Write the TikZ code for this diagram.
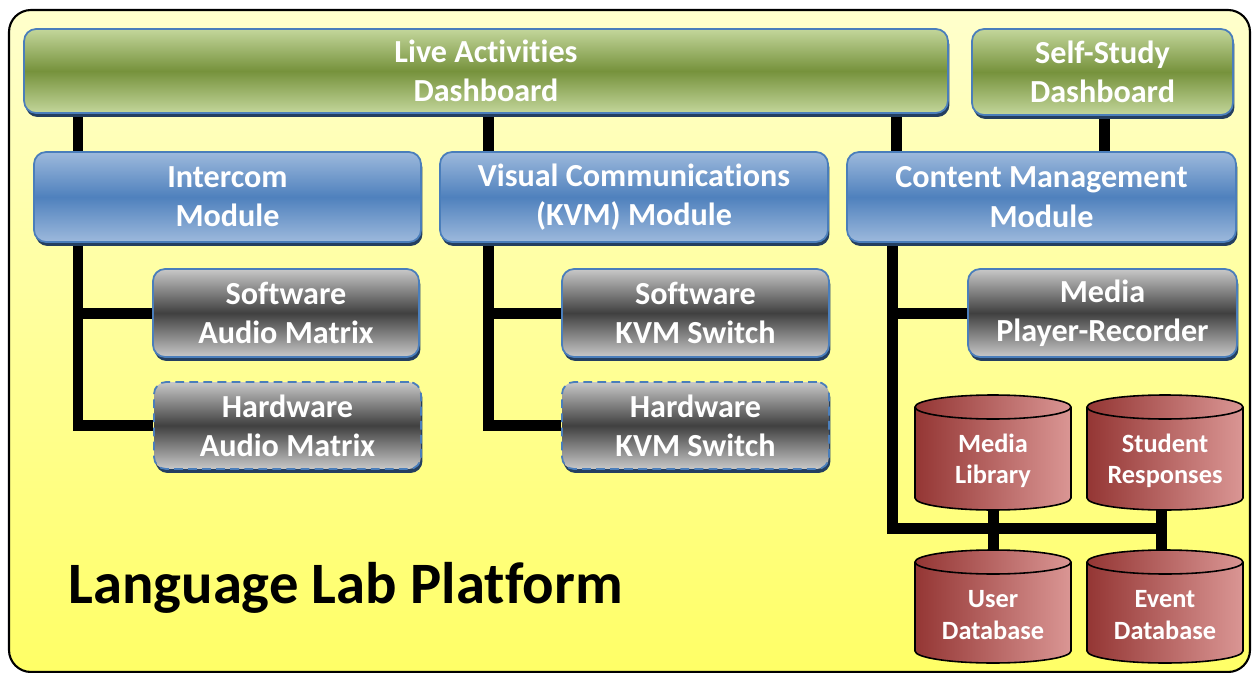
\documentclass[tikz,border=0pt]{standalone}
\usepackage{fontspec}
\setmainfont{Carlito}[Ligatures=NoCommon]
\usetikzlibrary{shadows}
\definecolor{gL}{HTML}{C3D69B}
\definecolor{gD}{HTML}{76923C}
\definecolor{bL}{HTML}{9DB9DC}
\definecolor{bD}{HTML}{4F81BD}
\definecolor{kL}{HTML}{C8C8C8}
\definecolor{kD}{HTML}{404040}
\definecolor{bord}{HTML}{4A7EBB}
\definecolor{shad}{HTML}{243F60}
\definecolor{cylL}{HTML}{943634}
\definecolor{cylR}{HTML}{DA9694}
\definecolor{yT}{HTML}{FFFFCC}
\definecolor{yB}{HTML}{FFFF66}
\pgfdeclarelayer{back}
\pgfdeclarelayer{wires}
\pgfsetlayers{back,wires,main}
\tikzset{
  box/.style={rectangle, rounded corners=0.24cm, draw=bord, line width=1pt,
    text=white, font=\bfseries\fontsize{18.3}{22.3}\selectfont, align=center, inner sep=0pt,
    drop shadow={shadow xshift=0.03cm, shadow yshift=-0.08cm, fill=shad, opacity=1}},
  greenbox/.style={box, top color=gL, bottom color=gL, middle color=gD},
  bluebox/.style={box, top color=bL, bottom color=bL, middle color=bD, minimum height=1.8cm},
  graybox/.style={box, top color=kL, bottom color=kL, middle color=kD, minimum height=1.76cm},
  dashbox/.style={graybox, dash pattern=on 5pt off 3pt},
  wire/.style={line width=0.22cm, black, line join=miter},
  cylfill/.style={left color=cylL, right color=cylR},
  cylline/.style={draw=black, line width=0.9pt},
  cyltext/.style={text=white, font=\bfseries\fontsize{15}{18}\selectfont, align=center,
    minimum width=3.12cm, inner sep=0pt}
}
\newcommand\dbcyl[3]{%
  \pgfmathsetmacro\ct{#2+12}\pgfmathsetmacro\cb{#3-12}%
  \shade[cylfill] (#1-78,\ct) rectangle (#1+78,\cb);
  \shade[cylfill] (#1,\cb) ellipse [x radius=1.56cm, y radius=0.24cm];
  \begin{scope}
    \clip (#1-80,\cb) rectangle (#1+80,\cb+14);
    \draw[cylline] (#1,\cb) ellipse [x radius=1.56cm, y radius=0.24cm];
  \end{scope}
  \draw[cylline] (#1-78,\ct) -- (#1-78,\cb) (#1+78,\ct) -- (#1+78,\cb);
  \shade[cylfill, cylline] (#1,\ct) ellipse [x radius=1.56cm, y radius=0.24cm];
}
\begin{document}
\begin{tikzpicture}[x=0.02cm, y=-0.02cm]
\useasboundingbox (0,0) rectangle (1252,673);
\begin{pgfonlayer}{back}
  \shade[top color=yT, bottom color=yB, draw=black, line width=1.2pt, rounded corners=0.44cm]
    (9,10) rectangle (1250,672);
\end{pgfonlayer}

% dashboards
\node[greenbox, minimum width=18.48cm, minimum height=1.68cm] (live) at (486,71) {Live Activities\\Dashboard};
\node[greenbox, minimum width=5.22cm, minimum height=1.72cm] (self) at (1102.5,72) {Self-Study\\Dashboard};

% modules
\node[bluebox, minimum width=7.74cm] (intercom) at (227.5,197) {Intercom\\Module};
\node[bluebox, minimum width=7.76cm] (visual) at (634,197) {Visual Communications\\(KVM) Module};
\node[bluebox, minimum width=7.78cm] (content) at (1041.5,197) {Content Management\\Module};

% sub components
\node[graybox, minimum width=5.32cm] (swaudio) at (286,313) {Software\\Audio Matrix};
\node[dashbox, minimum width=5.34cm, minimum height=1.74cm] (hwaudio) at (287.5,425.5) {Hardware\\Audio Matrix};
\node[graybox, minimum width=5.34cm] (swkvm) at (695.5,313) {Software\\KVM Switch};
\node[dashbox, minimum width=5.34cm, minimum height=1.74cm] (hwkvm) at (695.5,425.5) {Hardware\\KVM Switch};
\node[graybox, minimum width=5.38cm] (player) at (1102.5,313) {Media\\Player-Recorder};

% databases
\dbcyl{993}{395}{510}
\dbcyl{1165}{395}{510}
\dbcyl{993}{550}{663}
\dbcyl{1165}{550}{663}
\node[cyltext] (ml) at (993,461) {Media\\Library};
\node[cyltext] (sr) at (1165,461) {Student\\Responses};
\node[cyltext] (ud) at (993,615) {User\\Database};
\node[cyltext] (ev) at (1165,615) {Event\\Database};

\node[anchor=base west, font=\bfseries\fontsize{33.4}{40}\selectfont, inner sep=0pt] (title) at (68,603) {Language Lab Platform};

% connectors
\coordinate (xI) at (78,0);
\coordinate (xV) at (488.5,0);
\coordinate (xCt) at (896,0);
\coordinate (xCb) at (892,0);
\coordinate (xS) at (1104,0);
\coordinate (bus) at (1161,528);
\begin{pgfonlayer}{wires}
  \draw[wire] (live.south -| xI) -- (intercom.north -| xI);
  \draw[wire] (live.south -| xV) -- (visual.north -| xV);
  \draw[wire] (live.south -| xCt) -- (content.north -| xCt);
  \draw[wire] (self.south -| xS) -- (content.north -| xS);
  \draw[wire] (intercom.south -| xI) |- (hwaudio.west);
  \draw[wire] (swaudio.west -| xI) -- (swaudio.west);
  \draw[wire] (visual.south -| xV) |- (hwkvm.west);
  \draw[wire] (swkvm.west -| xV) -- (swkvm.west);
  \draw[wire] (content.south -| xCb) |- (bus);
  \draw[wire] (player.west -| xCb) -- (player.west);
  \draw[wire] (ml) -- (ud);
  \draw[wire] (sr.center -| bus) -- (ev.center -| bus);
\end{pgfonlayer}
\end{tikzpicture}
\end{document}
